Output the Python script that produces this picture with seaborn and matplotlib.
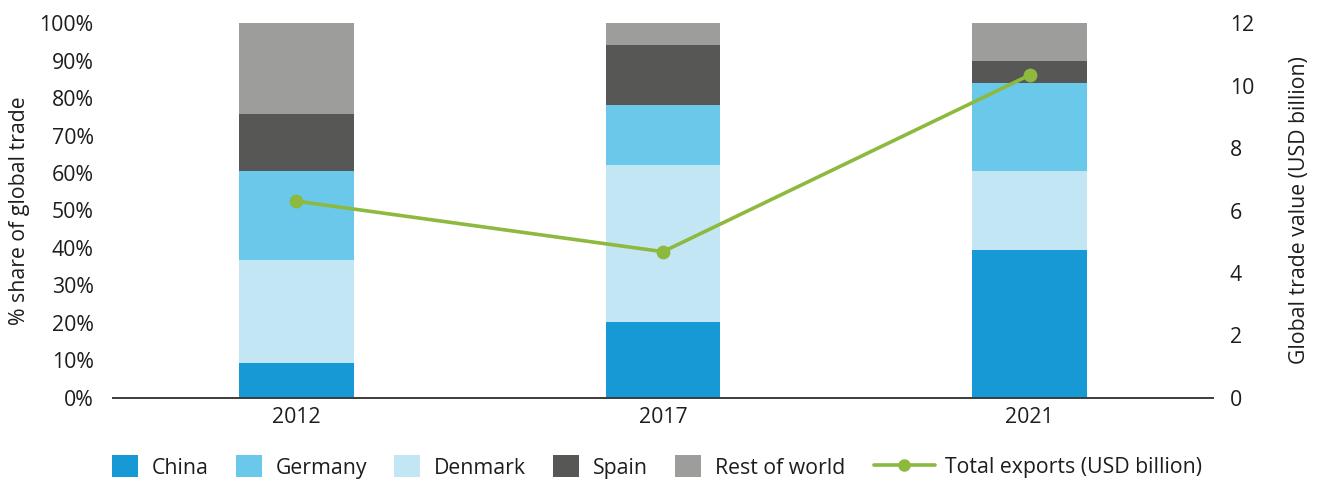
import matplotlib
matplotlib.use("Agg")
import matplotlib.pyplot as plt
import seaborn as sns
import pandas as pd
import numpy as np
from matplotlib.patches import Patch
from matplotlib.lines import Line2D

years = ["2012", "2017", "2021"]
china = [9.2, 20.2, 39.4]
denmark = [27.6, 42.0, 21.2]
germany = [23.7, 15.9, 23.4]
spain = [15.4, 16.0, 5.9]
rest = [24.1, 5.9, 10.1]
exports = [6.30, 4.68, 10.34]

colors = {
    "China": "#1799D6",
    "Germany": "#6AC8EA",
    "Denmark": "#C3E6F5",
    "Spain": "#575756",
    "Rest of world": "#9D9D9C",
}
line_color = "#8DB93F"
text_color = "#1D1D1B"
FS = 15.3

sns.set_theme(style="white")
plt.rcParams["font.family"] = ["Open Sans", "DejaVu Sans"]

fig = plt.figure(figsize=(13.2, 4.79), dpi=100)
ax = fig.add_axes([113 / 1320, 1 - 397.7 / 479, 1100 / 1320, 374.4 / 479])

# stacking order bottom->top: China, Denmark, Germany, Spain, Rest of world
stack = [("China", china), ("Denmark", denmark), ("Germany", germany),
         ("Spain", spain), ("Rest of world", rest)]
cum = np.cumsum([s[1] for s in stack], axis=0)
for (name, _), top in reversed(list(zip(stack, cum))):
    df = pd.DataFrame({"year": years, "value": top})
    sns.barplot(data=df, x="year", y="value", color=colors[name], width=0.313,
                saturation=1, ax=ax, edgecolor="none", linewidth=0)

ax.set_ylim(0, 100)
ax.set_xlim(-0.5, 2.5)
ax.set_yticks(np.arange(0, 101, 10))
ax.set_yticklabels([f"{v}%" for v in range(0, 101, 10)])
ax.set_xlabel("")
ax.set_ylabel("% share of global trade", fontsize=FS, color=text_color, labelpad=6.5)
for s in ["left", "right", "top"]:
    ax.spines[s].set_visible(False)
ax.spines["bottom"].set_color("#3C3C3B")
ax.spines["bottom"].set_linewidth(1.4)
ax.tick_params(axis="y", length=0, pad=14, labelsize=FS, labelcolor=text_color)
ax.tick_params(axis="x", length=0, pad=7, labelsize=FS, labelcolor=text_color)

ax2 = ax.twinx()
dfl = pd.DataFrame({"year": years, "exports": exports})
sns.pointplot(data=dfl, x="year", y="exports", color=line_color, ax=ax2,
              markers="o", linestyles="-", markersize=8, linewidth=2.6)
ax2.set_ylim(0, 12)
ax2.set_xlim(-0.5, 2.5)
ax2.set_yticks(np.arange(0, 13, 2))
ax2.set_ylabel("Global trade value (USD billion)", fontsize=FS, color=text_color, labelpad=25)
ax2.tick_params(axis="y", length=0, pad=12, labelsize=FS, labelcolor=text_color)
for s in ["left", "right", "top", "bottom"]:
    ax2.spines[s].set_visible(False)

legend_order = ["China", "Germany", "Denmark", "Spain", "Rest of world"]
handles = [Patch(facecolor=colors[n], edgecolor="none") for n in legend_order]
leg1 = fig.legend(handles, legend_order, loc="center left",
                  bbox_to_anchor=(112 / 1320, 1 - 467 / 479), ncol=5, frameon=False,
                  fontsize=FS, handlelength=1.22, handleheight=1.22, handletextpad=0.66,
                  columnspacing=1.27, borderpad=0, borderaxespad=0,
                  labelcolor=text_color)
lh = Line2D([0], [0], color=line_color, lw=2.6, marker="o", markersize=8)
leg2 = fig.legend([lh], ["Total exports (USD billion)"], loc="center left",
                  bbox_to_anchor=(874 / 1320, 1 - 467 / 479), frameon=False,
                  fontsize=FS, handlelength=2.85, handletextpad=0.5, borderpad=0,
                  borderaxespad=0, labelcolor=text_color)

fig.savefig("out.png", dpi=100)
